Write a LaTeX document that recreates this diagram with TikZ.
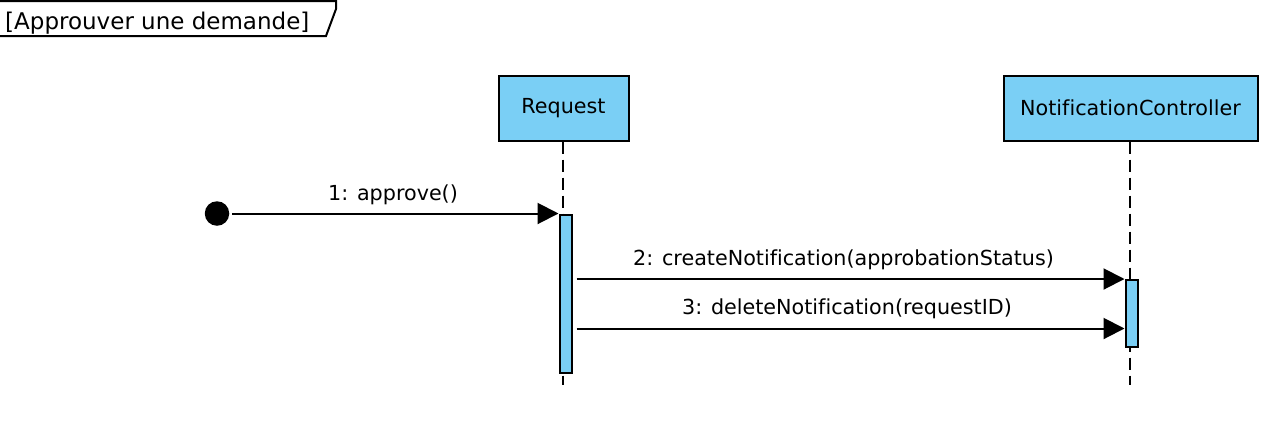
\documentclass[tikz,border=0pt]{standalone}
\usepackage{fontspec}
\setmainfont{DejaVu Sans}[Ligatures=NoCommon]
\usetikzlibrary{arrows.meta,calc}
\definecolor{lifeblue}{RGB}{122,207,245}
\tikzset{
  lifebox/.style={draw=black, fill=lifeblue, line width=2pt, inner sep=0pt, font=\fontsize{20.7}{24}\selectfont},
  actbox/.style={draw=black, fill=lifeblue, line width=2pt, inner sep=0pt, minimum width=12pt},
  lifeline/.style={draw=black, line width=2pt, dash pattern=on 12pt off 6pt},
  msg/.style={draw=black, line width=2pt, -{Triangle[length=21pt,width=21pt]}},
  lbl/.style={anchor=base, inner sep=0pt, font=\fontsize{20.7}{24}\selectfont},
}
\begin{document}
\begin{tikzpicture}[x=1pt,y=-1pt]
\useasboundingbox[fill=white] (0,0) rectangle (1271,432);
% frame label
\path[fill=white] (0,1) -- (336,1) -- (336,9) -- (326,36) -- (0,36) -- cycle;
\draw[line width=2pt, line join=miter] (0,1) -- (336,1) -- (336,9) -- (326,36) -- (0,36);
\node[anchor=base west, inner sep=0pt, font=\fontsize{23}{26}\selectfont] (ftitle) at (5,29) {[Approuver une demande]};
% lifeline heads
\node[lifebox, minimum width=130pt, minimum height=65pt] (req) at (563.5,108) {Request};
\node[lifebox, minimum width=254pt, minimum height=65pt] (nc) at (1130.5,108) {NotificationController};
\coordinate (reqend) at (562.5,385);
\coordinate (ncend) at (1130,385);
\draw[lifeline] (req.south -| reqend) -- (reqend);
\draw[lifeline] (nc.south -| ncend) -- (ncend);
% activations
\node[actbox, minimum height=158.5pt, anchor=north west] (a1) at (558.5,213.5) {};
\node[actbox, minimum height=67pt, anchor=north west] (a2) at (1124.5,279) {};
% start
\node[circle, fill=black, minimum size=24.5pt, inner sep=0pt] (start) at (217,213.5) {};
% messages
\coordinate (m3) at (1124.5,328.5);
\draw[msg, shorten <=3pt] (start.east) -- (a1.north west);
\draw[msg, shorten <=4pt] (a1.east |- a2.north west) -- (a2.north west);
\draw[msg, shorten <=4pt] (a1.east |- m3) -- (m3);
% labels
\node[lbl] (l1) at (393,200) {1: approve()};
\node[lbl] (l2) at (843.5,265) {2: createNotification(approbationStatus)};
\node[lbl] (l3) at (847,314) {3: deleteNotification(requestID)};
\end{tikzpicture}
\end{document}
